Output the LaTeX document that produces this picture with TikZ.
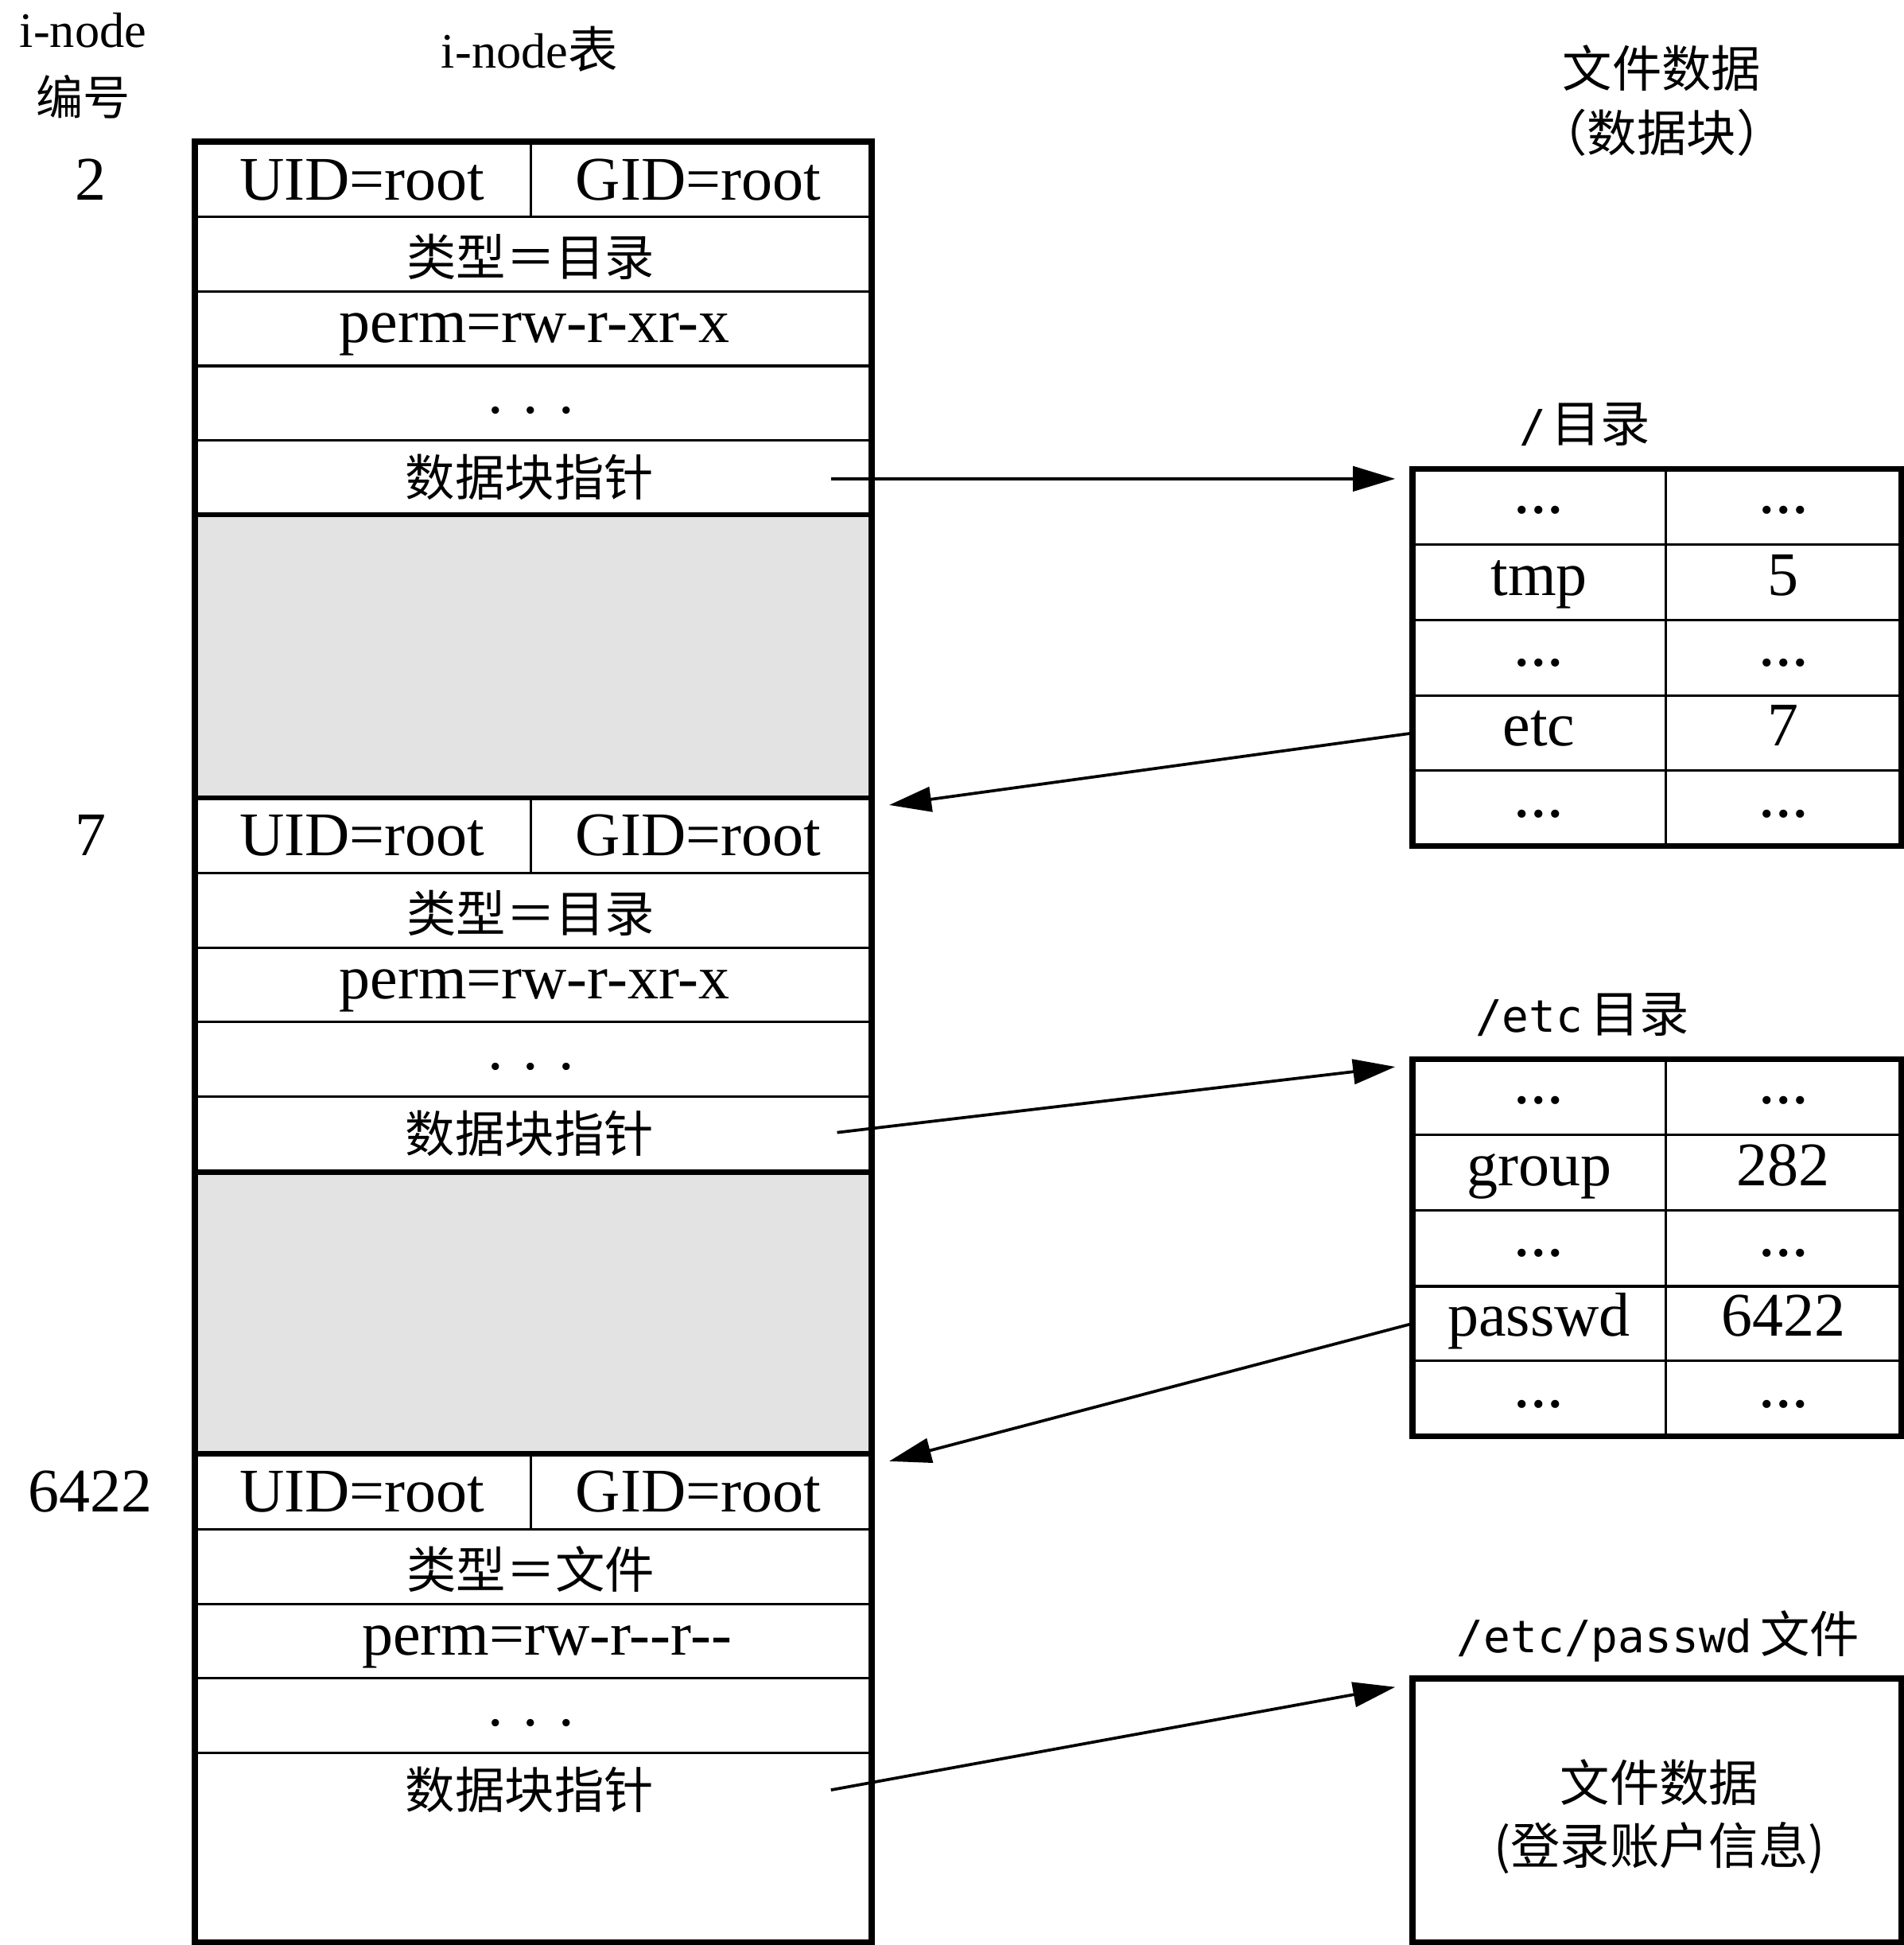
\documentclass[tikz,border=0pt]{standalone}
\usepackage{fontspec}
\setmainfont{Liberation Serif}
\newfontfamily\cjk{Noto Sans CJK SC}
\newfontfamily\mono{DejaVu Sans Mono}
\usetikzlibrary{arrows.meta}

\tikzset{
  latin/.style={font=\fontsize{25}{30}\selectfont, inner sep=0pt, anchor=base},
  dotsym/.style={font=\bfseries\fontsize{20}{24}\selectfont, inner sep=0pt, anchor=base},
  hanzi/.style={font=\cjk\fontsize{20}{24}\selectfont, inner sep=0pt},
  head/.style={font=\fontsize{20}{24}\selectfont, inner sep=0pt, anchor=base},
  pathlabel/.style={font=\mono\fontsize{18}{22}\selectfont, inner sep=0pt, anchor=base},
  thinrule/.style={line width=1pt},
  boldrule/.style={line width=2pt},
  frame/.style={line width=2.4pt, line join=miter},
  ptr/.style={line width=1.2pt, -{Triangle[length=17pt,width=10pt]}},
}

% one i-node record: #1 top, #2 name prefix, #3 i-node number, #4 type, #5 perm, #6 perm x
\newcommand\inodeblock[6]{%
  \begin{scope}[shift={(0,#1)}]
    \draw[thinrule] (157,61) -- (703,61) (157,121) -- (703,121)
                    (157,181) -- (703,181) (157,241) -- (703,241);
    \draw[thinrule] (428,0) -- (428,61);
    \node[latin] (#2num)  at (73,47)  {#3};
    \node[latin] (#2uid)  at (292,47) {UID=root};
    \node[latin] (#2gid)  at (563,47) {GID=root};
    \node[hanzi] (#2type) at (428,93) {#4};
    \node[latin] (#2perm) at (#6,162) {#5};
    \node[latin] (#2more) at (428,219) {.\hspace{8pt}.\hspace{8pt}.};
    \node[hanzi] (#2ptr)  at (427,271) {数据块指针};
  \end{scope}}

% one directory block: #1 top, #2 prefix, #3/#4 first entry, #5/#6 second entry
\newcommand\dirtable[6]{%
  \begin{scope}[shift={(0,#1)}]
    \draw[thinrule] (1139,61) -- (1533,61) (1139,122) -- (1533,122)
                    (1139,183) -- (1533,183) (1139,243) -- (1533,243);
    \draw[thinrule] (1343,0) -- (1343,304);
    \draw[frame] (1139,0) rectangle (1533,304);
    \node[dotsym] (#2da) at (1241,36) {…};
    \node[dotsym] (#2db) at (1438,36) {…};
    \node[latin] (#2na) at (1241,102) {#3};
    \node[latin] (#2ia) at (1438,102) {#4};
    \node[dotsym] (#2dc) at (1241,159) {…};
    \node[dotsym] (#2dd) at (1438,159) {…};
    \node[latin] (#2nb) at (1241,223) {#5};
    \node[latin] (#2ib) at (1438,223) {#6};
    \node[dotsym] (#2de) at (1241,281) {…};
    \node[dotsym] (#2df) at (1438,281) {…};
  \end{scope}}

\newcommand\hz[1]{{\cjk\fontsize{20}{24}\selectfont #1}}

\begin{document}
\begin{tikzpicture}[x=0.5pt,y=-0.5pt]
  \useasboundingbox (0,0) rectangle (1535,1568);

  % column headings
  \node[head] (hnum) at (67,38) {i-node};
  \node[hanzi, font=\cjk\fontsize{19}{23}\selectfont] (hnum2) at (67,78) {编号};
  \node[head] (htab) at (427,55) {i-node{\cjk 表}};
  \node[hanzi] (hdata) at (1340,55) {文件数据};
  \node[hanzi] (hdata2) at (1340,107) {（数据块）};

  % i-node table
  \fill[gray!22] (157,415) rectangle (703,643);
  \fill[gray!22] (157,945) rectangle (703,1172);
  \inodeblock{114}{ia}{2}{类型＝目录}{perm=rw-r-xr-x}{431}
  \inodeblock{643}{ib}{7}{类型＝目录}{perm=rw-r-xr-x}{431}
  \inodeblock{1172}{ic}{6422}{类型＝文件}{perm=rw-r-{}-r-{}-}{441}
  \draw[boldrule] (157,415) -- (703,415) (157,643) -- (703,643)
                  (157,945) -- (703,945) (157,1172) -- (703,1172);
  \draw[frame] (157,114) rectangle (703,1566);

  % data blocks
  \node[pathlabel] (lroot) at (1278,356) {/\hspace{2pt}\hz{目录}};
  \dirtable{378}{da}{tmp}{5}{etc}{7}
  \node[pathlabel] (letc) at (1276,832) {/etc\hspace{3pt}\hz{目录}};
  \dirtable{854}{db}{group}{282}{passwd}{6422}
  \node[pathlabel] (lpw) at (1337,1332) {/etc/passwd\hspace{3pt}\hz{文件}};
  \draw[frame] (1139,1353) rectangle (1533,1566);
  \node[hanzi] (fdata) at (1338,1437) {文件数据};
  \node[hanzi] (fdata2) at (1338,1490) {(登录账户信息)};

  % pointer ends
  \coordinate (p1s) at (670,386);
  \coordinate (p1e) at (1125,386);
  \coordinate (p2s) at (1139,591);
  \coordinate (p2e) at (717,649);
  \coordinate (p3s) at (675,913);
  \coordinate (p3e) at (1125,860);
  \coordinate (p4s) at (1139,1067);
  \coordinate (p4e) at (717,1178);
  \coordinate (p5s) at (670,1443);
  \coordinate (p5e) at (1125,1360);

  \draw[ptr] (p1s) -- (p1e);
  \draw[ptr] (p2s) -- (p2e);
  \draw[ptr] (p3s) -- (p3e);
  \draw[ptr] (p4s) -- (p4e);
  \draw[ptr] (p5s) -- (p5e);
\end{tikzpicture}
\end{document}
